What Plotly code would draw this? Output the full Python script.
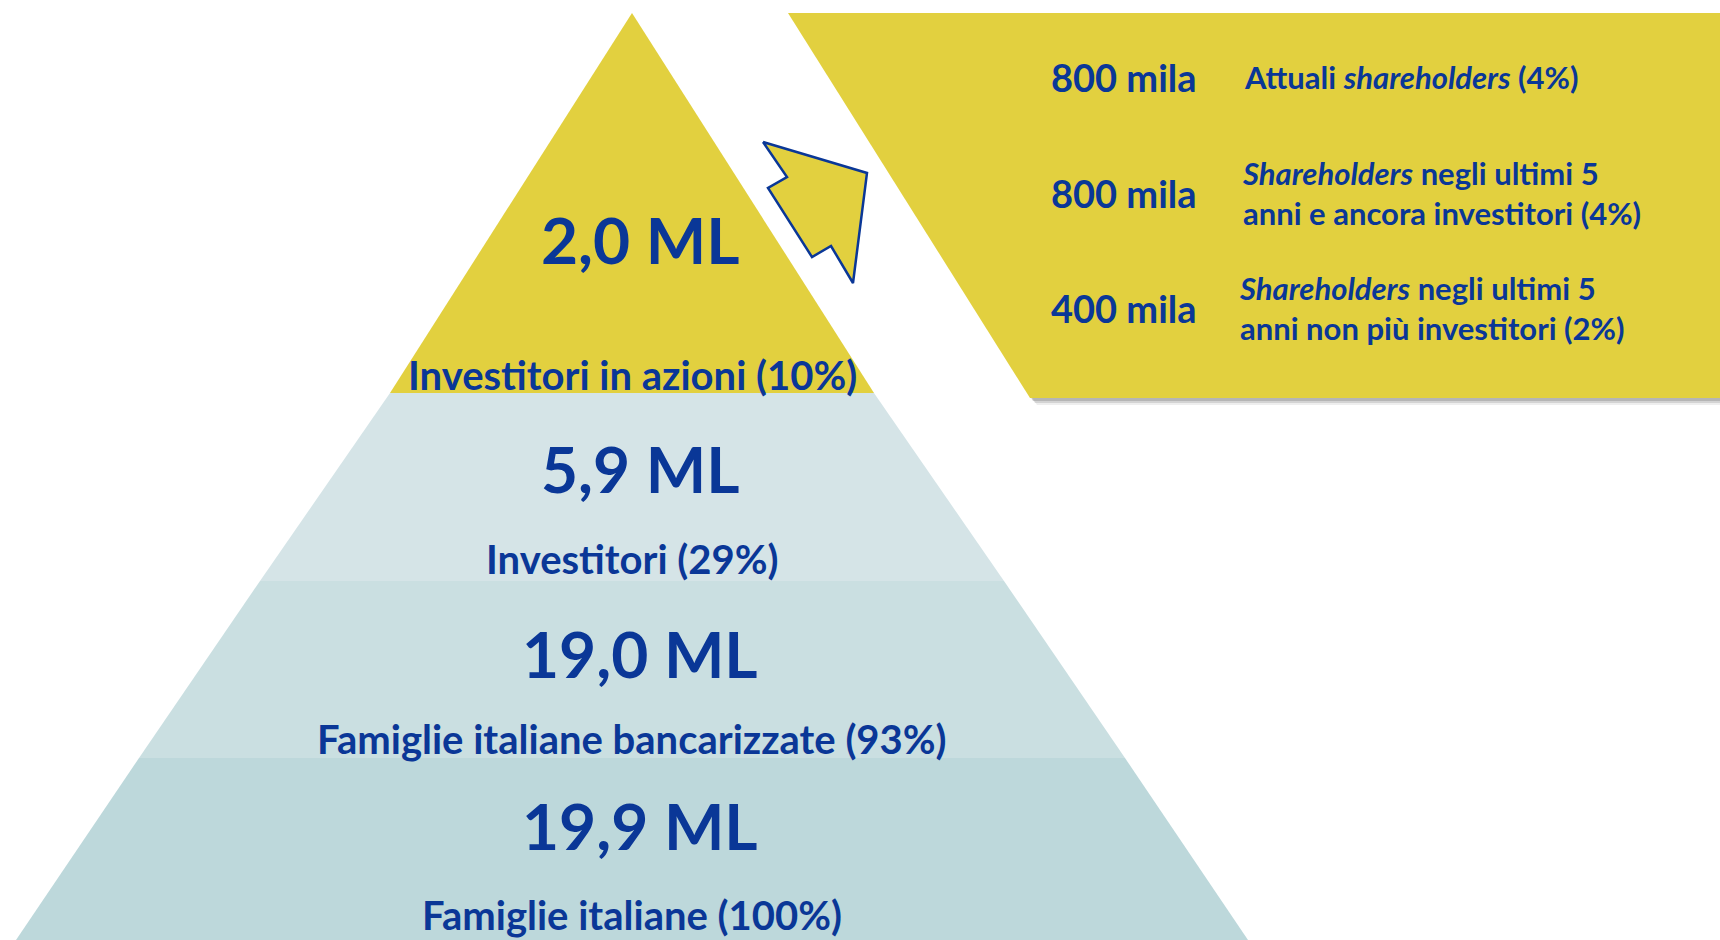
import plotly.graph_objects as go

# pyramid levels, top to bottom
level_values = ["2,0 ML", "5,9 ML", "19,0 ML", "19,9 ML"]
level_labels = ["Investitori in azioni (10%)", "Investitori (29%)",
                "Famiglie italiane bancarizzate (93%)", "Famiglie italiane (100%)"]

# breakdown of the top level
detail_values = ["800 mila", "800 mila", "400 mila"]
detail_labels = ["Attuali <i>shareholders</i> (4%)",
                 "<i>Shareholders</i> negli ultimi 5<br>anni e ancora investitori (4%)",
                 "<i>Shareholders</i> negli ultimi 5<br>anni non più investitori (2%)"]

# layout geometry (pixels of the 1720x940 canvas)
W, H = 1720, 940
cx = 632
band_y = [13, 393, 581, 758, 940]
band_half = [0, 242, 372, 493, 616]
band_colors = ["#E2D03F", "#D5E4E7", "#CADFE1", "#BDD8DB"]
value_y = [239, 468, 653, 825]
label_y = [375, 559, 739, 915]

BLUE = "#0A3797"
YELLOW = "#E2D03F"
FONT = "Lato"

fig = go.Figure()

# pyramid bands
for i, col in enumerate(band_colors):
    y0, y1 = band_y[i], band_y[i + 1]
    h0, h1 = band_half[i], band_half[i + 1]
    fig.add_trace(go.Scatter(
        x=[cx - h0, cx + h0, cx + h1, cx - h1, cx - h0],
        y=[y0, y0, y1, y1, y0],
        fill="toself", fillcolor=col, mode="lines",
        line=dict(width=0, color=col), hoverinfo="skip", showlegend=False))

# side panel with soft shadow
panel_x = [788, W + 10, W + 10, 1030, 788]
panel_y = [13, 13, 398, 398, 13]
for off, op in [(7, 0.10), (5, 0.18), (3, 0.25)]:
    fig.add_trace(go.Scatter(
        x=[v + off for v in panel_x], y=[v + off for v in panel_y],
        fill="toself", fillcolor=f"rgba(90,90,90,{op})", mode="lines",
        line=dict(width=0), hoverinfo="skip", showlegend=False))
fig.add_trace(go.Scatter(
    x=panel_x, y=panel_y, fill="toself", fillcolor=YELLOW, mode="lines",
    line=dict(width=0, color=YELLOW), hoverinfo="skip", showlegend=False))

# arrow
arrow_x = [763, 867, 853, 831, 812, 768, 787, 763]
arrow_y = [142, 173, 283, 246, 257, 188, 177, 142]
fig.add_trace(go.Scatter(
    x=arrow_x, y=arrow_y, fill="toself", fillcolor=YELLOW, mode="lines",
    line=dict(width=2.5, color=BLUE), hoverinfo="skip", showlegend=False))

# pyramid texts
for i in range(len(level_values)):
    fig.add_annotation(x=cx + 8, y=value_y[i], text=f"<b>{level_values[i]}</b>",
                       showarrow=False, xanchor="center", yanchor="middle",
                       font=dict(family=FONT, size=64, color=BLUE))
    fig.add_annotation(x=cx, y=label_y[i], text=f"<b>{level_labels[i]}</b>",
                       showarrow=False, xanchor="center", yanchor="middle",
                       font=dict(family=FONT, size=40, color=BLUE))

# panel texts
detail_y = [77, 193, 308]
detail_x = [1242, 1240, 1237]
for i in range(len(detail_values)):
    fig.add_annotation(x=1199, y=detail_y[i], text=f"<b>{detail_values[i]}</b>",
                       showarrow=False, xanchor="right", yanchor="middle",
                       font=dict(family=FONT, size=38, color=BLUE))
    fig.add_annotation(x=detail_x[i], y=detail_y[i], text=f"<b>{detail_labels[i]}</b>",
                       showarrow=False, xanchor="left", yanchor="middle", align="left",
                       font=dict(family=FONT, size=31, color=BLUE))

fig.update_xaxes(range=[0, W], visible=False, fixedrange=True)
fig.update_yaxes(range=[H, 0], visible=False, fixedrange=True)
fig.update_layout(width=W, height=H, margin=dict(l=0, r=0, t=0, b=0),
                  plot_bgcolor="white", paper_bgcolor="white",
                  showlegend=False)

fig.write_html("out.html", config={"displayModeBar": False},
               post_script="document.body.style.margin='0';")
